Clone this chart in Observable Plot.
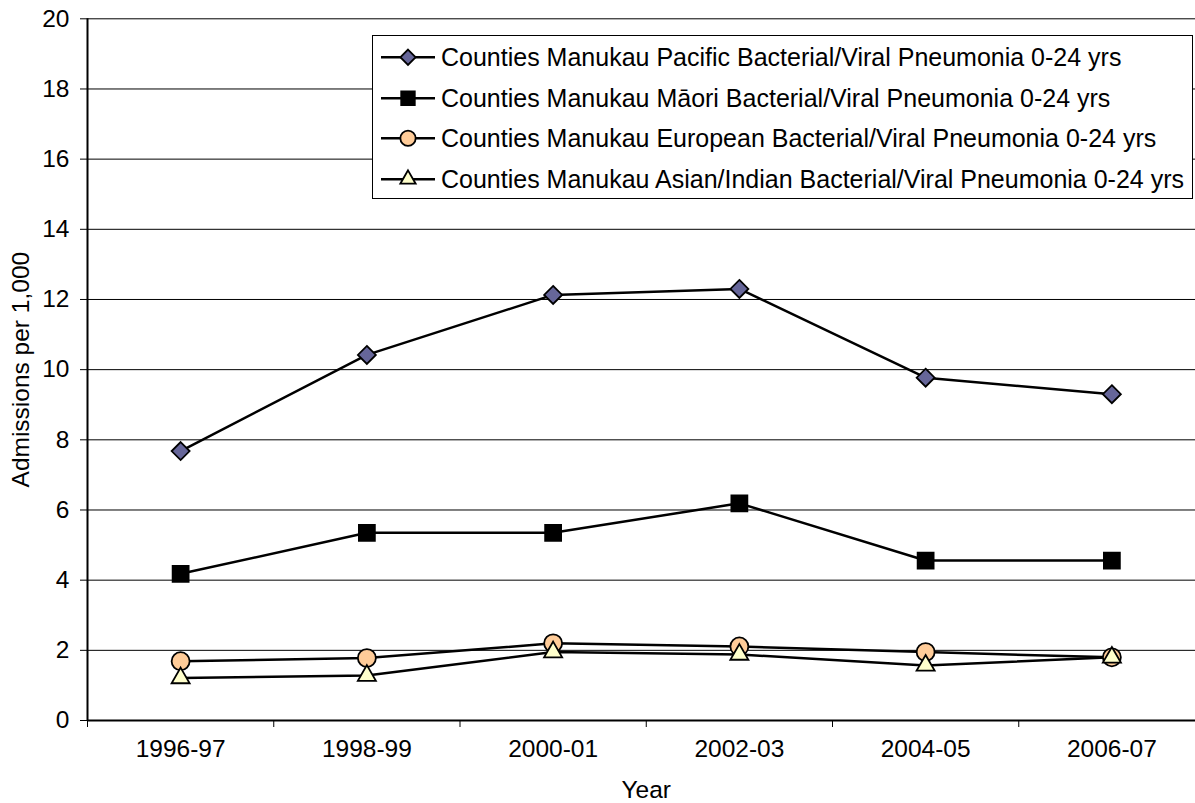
<!DOCTYPE html>
<html>
<head>
<meta charset="utf-8">
<script src="https://cdn.jsdelivr.net/npm/d3@7"></script>
<script src="https://cdn.jsdelivr.net/npm/@observablehq/plot@0.6"></script>
<style>
  html, body { margin: 0; padding: 0; background: #fff; overflow: hidden; }
  #wrap { position: relative; width: 1195px; height: 803px; font-family: "Liberation Sans", Arial, sans-serif; }
  #legend { position: absolute; left: 372px; top: 35px; width: 821px; height: 164px; box-sizing: border-box;
            border: 1px solid #000; background: #fff; padding-top: 1px; }
  .row { height: 40.5px; display: flex; align-items: center; position: relative; }
  .row svg { position: absolute; left: 7px; top: 0; }
  .row span { position: absolute; left: 68px; font-size: 25px; color: #000; white-space: nowrap; line-height: 40.5px; }
</style>
</head>
<body>
<div id="wrap"></div>
<script>
// ---- data ----
const years = ["1996-97", "1998-99", "2000-01", "2002-03", "2004-05", "2006-07"];
const seriesNames = [
  "Counties Manukau Pacific Bacterial/Viral Pneumonia 0-24 yrs",
  "Counties Manukau Māori Bacterial/Viral Pneumonia 0-24 yrs",
  "Counties Manukau European Bacterial/Viral Pneumonia 0-24 yrs",
  "Counties Manukau Asian/Indian Bacterial/Viral Pneumonia 0-24 yrs"
];
const pacific  = [7.68, 10.42, 12.13, 12.30, 9.77, 9.30];
const maori    = [4.18, 5.35, 5.35, 6.19, 4.56, 4.56];
const european = [1.69, 1.78, 2.20, 2.11, 1.95, 1.80];
const asian    = [1.21, 1.28, 1.95, 1.88, 1.57, 1.80];
const yTicks = [0, 2, 4, 6, 8, 10, 12, 14, 16, 18, 20];
const yLabel = "Admissions per 1,000";
const xLabel = "Year";

// ---- styles ----
const symbols = ["diamond2", "square", "circle", "triangle"];
const fills = ["#666699", "#000000", "#FFCC99", "#FFFFCC"];
const radii = [8.1, 9.0, 9.0, 6.7];

const allValues = [pacific, maori, european, asian];
const data = allValues.flatMap((vals, s) =>
  vals.map((v, i) => ({i, year: years[i], value: v, s, name: seriesNames[s]})));

const boundaries = years.map((_, i) => i - 0.5);

const marks = [
  Plot.gridY(yTicks.slice(1), {stroke: "#000", strokeOpacity: 1, strokeWidth: 1}),
  Plot.axisY(yTicks, {tickSize: 7, tickPadding: 11, label: null, stroke: "#000"}),
  Plot.axisX(boundaries, {tickSize: 7, tickFormat: () => "", label: null, stroke: "#000", strokeWidth: 1}),
  Plot.axisX(years.map((_, i) => i), {tickSize: 0, tickPadding: 19, tickFormat: i => years[i], label: null}),
  Plot.ruleY([0], {stroke: "#000", strokeWidth: 2}),
  Plot.ruleX([-0.5], {y1: 0, y2: 20, stroke: "#000", strokeWidth: 2}),
  Plot.text([yLabel], {frameAnchor: "left", textAnchor: "middle", rotate: -90, dx: -66, fontSize: 24.5, fill: "#000"}),
  Plot.text([xLabel], {frameAnchor: "bottom", textAnchor: "middle", dy: 70, lineAnchor: "middle", fontSize: 24.5, fill: "#000"})
];
allValues.forEach((_, s) => {
  marks.push(Plot.line(data.filter(d => d.s === s), {x: "i", y: "value", stroke: "#000", strokeWidth: 2.5}));
});
allValues.forEach((_, s) => {
  marks.push(Plot.dot(data.filter(d => d.s === s), {
    x: "i", y: "value", symbol: () => symbols[s], r: radii[s],
    fill: fills[s], stroke: "#000", strokeWidth: 1.8
  }));
});

const chart = Plot.plot({
  width: 1195,
  height: 803,
  marginLeft: 87,
  marginRight: -9.5,
  marginTop: 18.3,
  marginBottom: 83,
  style: {fontFamily: "'Liberation Sans', Arial, sans-serif", fontSize: "24.5px", background: "#fff", color: "#000"},
  x: {type: "linear", domain: [-0.5, years.length - 0.5], axis: null},
  y: {domain: [0, 20], axis: null},
  symbol: {type: "identity"},
  marks
});
const wrap = document.getElementById("wrap");
wrap.appendChild(chart);

// ---- legend (HTML overlay) ----
const legend = document.createElement("div");
legend.id = "legend";
seriesNames.forEach((name, s) => {
  const row = document.createElement("div");
  row.className = "row";
  const svg = d3.create("svg").attr("width", 56).attr("height", 40.5);
  svg.append("line").attr("x1", 1).attr("x2", 55).attr("y1", 20.25).attr("y2", 20.25)
     .attr("stroke", "#000").attr("stroke-width", 2.5);
  const symMap = {diamond2: d3.symbolDiamond2, square: d3.symbolSquare, circle: d3.symbolCircle, triangle: d3.symbolTriangle};
  const r = radii[s] * 0.85;
  svg.append("path").attr("d", d3.symbol(symMap[symbols[s]], r * r * Math.PI)())
     .attr("transform", "translate(28,20.25)")
     .attr("fill", fills[s]).attr("stroke", "#000").attr("stroke-width", 1.8);
  row.appendChild(svg.node());
  const span = document.createElement("span");
  span.textContent = name;
  row.appendChild(span);
  legend.appendChild(row);
});
wrap.appendChild(legend);
</script>
</body>
</html>
